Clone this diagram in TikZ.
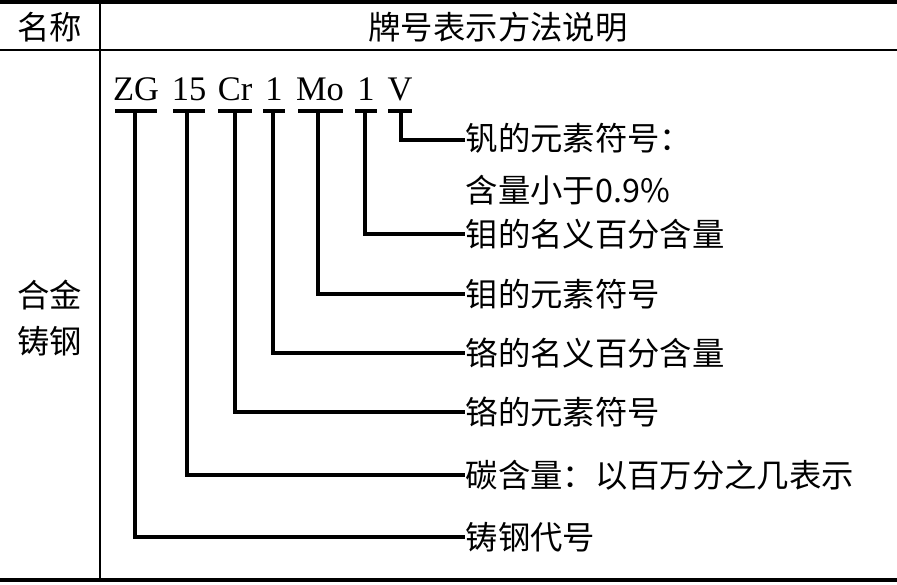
\documentclass[tikz,border=0pt]{standalone}
\usepackage{fontspec}
\setmainfont{Liberation Serif}
\newfontfamily\cjk{Noto Sans CJK SC}
\begin{document}
\begin{tikzpicture}[x=0.01cm,y=-0.01cm,
  txt/.style={inner sep=0pt,font=\cjk\fontsize{9.2}{10}\selectfont},
  code/.style={inner sep=0pt,anchor=base,font=\fontsize{9.8}{11}\selectfont},
  lead/.style={line width=0.9pt}]
\useasboundingbox (0,0) rectangle (897,584);
% table rules
\draw[line width=1.2pt] (0,2) -- (897,2);
\draw[line width=0.6pt] (0,50) -- (897,50);
\draw[line width=1.2pt] (0,580) -- (897,580);
\draw[line width=0.6pt] (100,2) -- (100,580);
\node[txt] (hName) at (50,27) {名称};
\node[txt] (hDesc) at (498,27) {牌号表示方法说明};
\node[txt,align=center] (kind) at (50,318) {合金\\[3pt]铸钢};
% grade codes
\node[code] (cZG) at (136,100) {ZG};
\node[code] (c15) at (189,100) {15};
\node[code] (cCr) at (235,100) {Cr};
\node[code] (c1a) at (274,100) {1};
\node[code] (cMo) at (320,100) {Mo};
\node[code] (c1b) at (366,100) {1};
\node[code] (cV) at (400,100) {V};
% underlines
\draw[lead] (115,111) -- (157,111);
\draw[lead] (173,111) -- (205,111);
\draw[lead] (218,111) -- (252,111);
\draw[lead] (263,111) -- (285,111);
\draw[lead] (298,111) -- (343,111);
\draw[lead] (355,111) -- (377,111);
\draw[lead] (388,111) -- (412,111);
% labels
\node[txt,anchor=west] (lV) at (465,138) {钒的元素符号：};
\node[txt,anchor=west] (lV2) at (465,190) {含量小于0.9\%};
\node[txt,anchor=west] (l1b) at (465,234) {钼的名义百分含量};
\node[txt,anchor=west] (lMo) at (465,294) {钼的元素符号};
\node[txt,anchor=west] (l1a) at (465,353) {铬的名义百分含量};
\node[txt,anchor=west] (lCr) at (465,412) {铬的元素符号};
\node[txt,anchor=west] (l15) at (465,475) {碳含量：以百万分之几表示};
\node[txt,anchor=west] (lZG) at (465,537) {铸钢代号};
% leaders
\draw[lead] (401,111) |- (lV.west |- 0,140);
\draw[lead] (365,111) |- (l1b.west);
\draw[lead] (318,111) |- (lMo.west);
\draw[lead] (273,111) |- (l1a.west);
\draw[lead] (235,111) |- (lCr.west);
\draw[lead] (187,111) |- (l15.west);
\draw[lead] (135,111) |- (lZG.west);
\end{tikzpicture}
\end{document}
